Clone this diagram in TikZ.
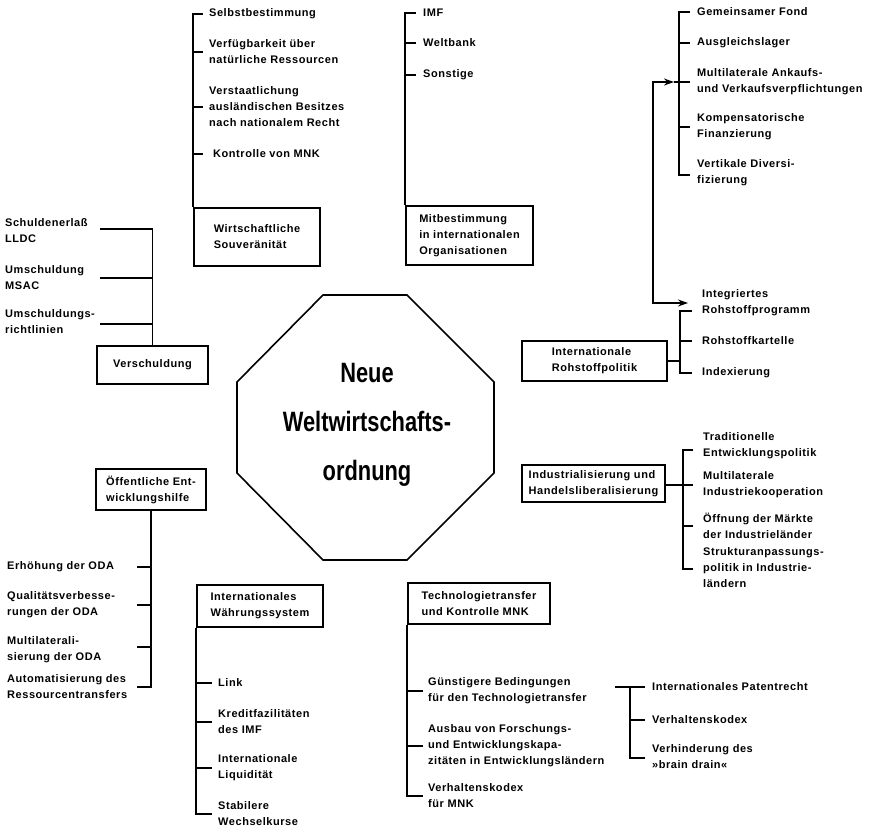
\documentclass[tikz,border=0pt]{standalone}
\usepackage{fontspec}
\usetikzlibrary{arrows.meta}
\newfontfamily\lblfont[LetterSpace=5]{Liberation Sans}
\newfontfamily\titlefont[FakeStretch=0.78]{Liberation Sans}
\begin{document}
\begin{tikzpicture}[x=1pt,y=-1pt,
 lbl/.style={font=\lblfont\bfseries\fontsize{11}{16}\selectfont, align=left, inner sep=0pt, anchor=west},
 box/.style={draw, line width=1.8pt, font=\lblfont\bfseries\fontsize{11}{16}\selectfont, align=left, inner sep=0pt},
 ln/.style={line width=1.6pt},
 dblarrow/.style={line width=1.6pt, {Stealth[length=10pt,width=7pt]}-{Stealth[length=10pt,width=7pt]}},
]
\useasboundingbox (0,0) rectangle (873,830);

% centre octagon
\draw[line width=1.6pt] (323,295) -- (407,295) -- (494,382) -- (494,473) -- (407,560) -- (323,560) -- (237,473) -- (237,382) -- cycle;
\node[font=\titlefont\bfseries\fontsize{28}{49}\selectfont, align=center] (nw) at (367,425) {Neue\\Weltwirtschafts-\\ordnung};

% Wirtschaftliche Souveraenitaet
\node[box, minimum width=126, minimum height=58] (ws) at (257,237) {Wirtschaftliche\\Souveränität};
\node[lbl] (ws1) at (209,14) {Selbstbestimmung};
\node[lbl] (ws2) at (209,52) {Verfügbarkeit über\\natürliche Ressourcen};
\node[lbl] (ws3) at (209,107) {Verstaatlichung\\ausländischen Besitzes\\nach nationalem Recht};
\node[lbl] (ws4) at (213,154) {Kontrolle von MNK};
\draw[ln] (ws.north west) |- ([xshift=-6pt]ws1.west);
\draw[ln] (ws.north west |- ws2.west) -- ([xshift=-6pt]ws2.west);
\draw[ln] (ws.north west |- ws3.west) -- ([xshift=-6pt]ws3.west);
\draw[ln] (ws.north west |- ws4.west) -- ([xshift=-10pt]ws4.west);

% Mitbestimmung
\node[box, minimum width=127, minimum height=59] (mb) at (469.5,235.5) {Mitbestimmung\\in internationalen\\Organisationen};
\node[lbl] (mb1) at (423,13) {IMF};
\node[lbl] (mb2) at (423,43) {Weltbank};
\node[lbl] (mb3) at (423,75) {Sonstige};
\draw[ln] (mb.north west) |- ([xshift=-7pt]mb1.west);
\draw[ln] (mb.north west |- mb2.west) -- ([xshift=-7pt]mb2.west);
\draw[ln] (mb.north west |- mb3.west) -- ([xshift=-7pt]mb3.west);

% Integriertes Rohstoffprogramm details
\node[lbl] (rk1) at (697,12) {Gemeinsamer Fond};
\node[lbl] (rk2) at (697,43) {Ausgleichslager};
\node[lbl] (rk3) at (697,82) {Multilaterale Ankaufs-\\und Verkaufsverpflichtungen};
\node[lbl] (rk4) at (697,127) {Kompensatorische\\Finanzierung};
\node[lbl] (rk5) at (697,173) {Vertikale Diversi-\\fizierung};
\coordinate (rs) at (679,175);
\draw[ln] ([xshift=-7pt]rk1.west) -| (rs) -- ([xshift=-7pt]rk5.west |- rs);
\draw[ln] (rs |- rk2.west) -- ([xshift=-7pt]rk2.west);
\draw[ln] (rs |- rk3.west) -- ([xshift=-7pt]rk3.west);
\draw[ln] (rs |- rk4.west) -- ([xshift=-7pt]rk4.west);

% Rohstoffpolitik
\node[box, minimum width=145, minimum height=40] (rp) at (594.5,361) {Internationale\\Rohstoffpolitik};
\node[lbl] (ro1) at (702,303) {Integriertes\\Rohstoffprogramm};
\node[lbl] (ro2) at (702,341) {Rohstoffkartelle};
\node[lbl] (ro3) at (702,373) {Indexierung};
\draw[ln] ([xshift=-10pt,yshift=-8pt]ro1.west) -| ([xshift=-22pt]ro3.west) -- ([xshift=-10pt]ro3.west);
\draw[ln] ([xshift=-22pt]ro2.west) -- ([xshift=-10pt]ro2.west);
\draw[ln] (rp.east) -- ([xshift=-22pt]ro2.west |- rp.east);

% arrow linking both brackets
\coordinate (atip) at (674,82);
\coordinate (acorner) at (653,303);
\draw[dblarrow] (atip) -- (atip -| acorner) -- (acorner) -- ([xshift=-14pt]acorner -| ro1.west);
\draw[ln] (atip) -- (rs |- atip);

% Industrialisierung
\node[box, minimum width=143, minimum height=37] (ih) at (593.5,483.5) {Industrialisierung und\\Handelsliberalisierung};
\node[lbl] (ih1) at (703,446) {Traditionelle\\Entwicklungspolitik};
\node[lbl] (ih2) at (703,485) {Multilaterale\\Industriekooperation};
\node[lbl] (ih3) at (703,526) {Öffnung der Märkte\\der Industrieländer};
\node[lbl] (ih4) at (703,568) {Strukturanpassungs-\\politik in Industrie-\\ländern};
\draw[ln] ([xshift=-10pt,yshift=-4pt]ih1.west) -| ([xshift=-20pt,yshift=-1pt]ih4.west) -- ([xshift=-10pt,yshift=-1pt]ih4.west);
\draw[ln] (ih.east |- ih2.west) -- ([xshift=-10pt]ih2.west);
\draw[ln] ([xshift=-20pt]ih3.west) -- ([xshift=-10pt]ih3.west);

% Verschuldung
\node[box, minimum width=111, minimum height=38] (vs) at (152.5,365) {Verschuldung};
\node[lbl] (vs1) at (5,231) {Schuldenerlaß\\LLDC};
\node[lbl] (vs2) at (5,278) {Umschuldung\\MSAC};
\node[lbl] (vs3) at (5,322) {Umschuldungs-\\richtlinien};
\coordinate (vst) at (100,0);
\draw[ln] ([yshift=2pt]vst |- vs1.west) -| (vs.north);
\draw[ln] (vst |- vs2.west) -- (vs.north |- vs2.west);
\draw[ln] ([yshift=-2pt]vst |- vs3.west) -- ([yshift=-2pt]vs.north |- vs3.west);

% Oeffentliche Entwicklungshilfe
\node[box, minimum width=110, minimum height=41] (oe) at (151,489.5) {Öffentliche Ent-\\wicklungshilfe};
\node[lbl] (oe1) at (7,567) {Erhöhung der ODA};
\node[lbl] (oe2) at (7,605) {Qualitätsverbesse-\\rungen der ODA};
\node[lbl] (oe3) at (7,650) {Multilaterali-\\sierung der ODA};
\node[lbl] (oe4) at (7,687) {Automatisierung des\\Ressourcentransfers};
\coordinate (oet) at (137,0);
\draw[ln] (oe.south) |- (oet |- oe4.west);
\draw[ln] (oet |- oe1.west) -- (oe.south |- oe1.west);
\draw[ln] (oet |- oe2.west) -- (oe.south |- oe2.west);
\draw[ln] ([yshift=3pt]oet |- oe3.west) -- ([yshift=3pt]oe.south |- oe3.west);

% Internationales Waehrungssystem
\node[box, minimum width=126, minimum height=42] (iw) at (260,606) {Internationales\\Währungssystem};
\node[lbl] (iw1) at (218,683) {Link};
\node[lbl] (iw2) at (218,722) {Kreditfazilitäten\\des IMF};
\node[lbl] (iw3) at (218,768) {Internationale\\Liquidität};
\node[lbl] (iw4) at (218,814) {Stabilere\\Wechselkurse};
\draw[ln] (iw.south west) |- ([xshift=-6pt]iw4.west);
\draw[ln] (iw.south west |- iw1.west) -- ([xshift=-6pt]iw1.west);
\draw[ln] (iw.south west |- iw2.west) -- ([xshift=-6pt]iw2.west);
\draw[ln] (iw.south west |- iw3.west) -- ([xshift=-6pt]iw3.west);

% Technologietransfer
\node[box, minimum width=142, minimum height=41] (tt) at (479,603.5) {Technologietransfer\\und Kontrolle MNK};
\node[lbl] (tt1) at (428,691) {Günstigere Bedingungen\\für den Technologietransfer};
\node[lbl] (tt2) at (428,746) {Ausbau von Forschungs-\\und Entwicklungskapa-\\zitäten in Entwicklungsländern};
\node[lbl] (tt3) at (428,796) {Verhaltenskodex\\für MNK};
\draw[ln] (tt.south west) |- ([xshift=-5pt]tt3.west);
\draw[ln] (tt.south west |- tt1.west) -- ([xshift=-5pt]tt1.west);
\draw[ln] (tt.south west |- tt2.west) -- ([xshift=-5pt]tt2.west);

% sub-bracket
\node[lbl] (ts1) at (652,687) {Internationales Patentrecht};
\node[lbl] (ts2) at (652,720) {Verhaltenskodex};
\node[lbl] (ts3) at (652,757) {Verhinderung des\\»brain drain«};
\coordinate (tsl) at (615,687);
\draw[ln] (tsl) -- ([xshift=-7pt]ts1.west);
\draw[ln] ([xshift=-22pt]ts1.west) |- ([xshift=-7pt,yshift=-1pt]ts3.west);
\draw[ln] ([xshift=-22pt]ts2.west) -- ([xshift=-7pt]ts2.west);
\end{tikzpicture}
\end{document}
